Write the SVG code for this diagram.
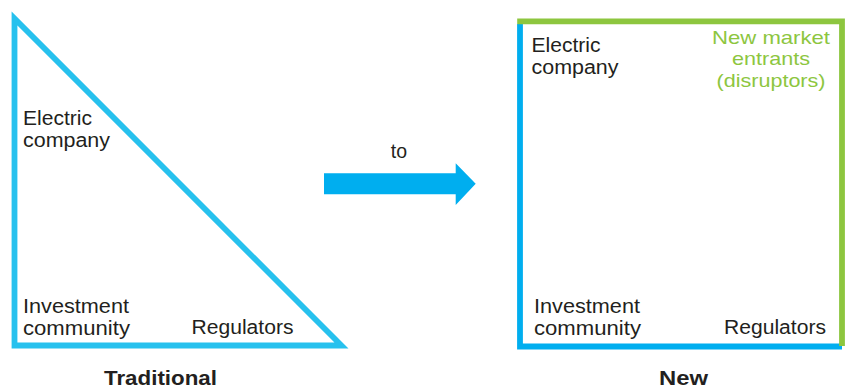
<svg xmlns="http://www.w3.org/2000/svg" width="852" height="392" viewBox="0 0 852 392">
  <style>
    .lbl { font-family: "Liberation Sans", Arial, sans-serif; font-size: 19.5px; fill: #231F20; }
    .title { font-family: "Liberation Sans", Arial, sans-serif; font-size: 20px; font-weight: bold; fill: #231F20; text-anchor: middle; }
    .green { fill: #8DC63F; text-anchor: middle; font-size: 19px; }
    .frame { fill: none; stroke-width: 5.8; stroke-linejoin: miter; }
  </style>
  <rect width="852" height="392" fill="#FFFFFF"/>

  <!-- Traditional model: triangle -->
  <g id="traditional">
    <polygon class="frame" points="14.5,18.5 14.5,345.5 341.5,345.5" stroke="#27C1EE"/>
    <text class="lbl" x="23" y="125" textLength="69" lengthAdjust="spacingAndGlyphs">Electric</text>
    <text class="lbl" x="23" y="147" textLength="87" lengthAdjust="spacingAndGlyphs">company</text>
    <text class="lbl" x="23" y="313" textLength="106" lengthAdjust="spacingAndGlyphs">Investment</text>
    <text class="lbl" x="23" y="335" textLength="107" lengthAdjust="spacingAndGlyphs">community</text>
    <text class="lbl" x="191.5" y="334" textLength="102" lengthAdjust="spacingAndGlyphs">Regulators</text>
    <text class="title" x="160.5" y="385" textLength="113" lengthAdjust="spacingAndGlyphs">Traditional</text>
  </g>

  <!-- New model: square with disruptor edges -->
  <g id="new">
    <path class="frame" d="M520,24 V346.5 H842" stroke="#00AEEF"/>
    <path class="frame" d="M517.2,21.3 H842 V346" stroke="#8DC63F"/>
    <text class="lbl" x="531.5" y="51.7" textLength="69" lengthAdjust="spacingAndGlyphs">Electric</text>
    <text class="lbl" x="531.5" y="73.7" textLength="87" lengthAdjust="spacingAndGlyphs">company</text>
    <text class="lbl green" x="771" y="43.5" textLength="118" lengthAdjust="spacingAndGlyphs">New market</text>
    <text class="lbl green" x="771" y="65" textLength="78" lengthAdjust="spacingAndGlyphs">entrants</text>
    <text class="lbl green" x="771" y="86.5" textLength="109" lengthAdjust="spacingAndGlyphs">(disruptors)</text>
    <text class="lbl" x="534" y="313" textLength="106" lengthAdjust="spacingAndGlyphs">Investment</text>
    <text class="lbl" x="534" y="335" textLength="107" lengthAdjust="spacingAndGlyphs">community</text>
    <text class="lbl" x="724" y="334" textLength="102" lengthAdjust="spacingAndGlyphs">Regulators</text>
    <text class="title" x="683.5" y="385" textLength="49" lengthAdjust="spacingAndGlyphs">New</text>
  </g>

  <!-- Transition arrow -->
  <g id="connectors">
    <polygon points="324,173.3 455.7,173.3 455.7,163.3 475.7,183.8 455.7,205 455.7,194.3 324,194.3" fill="#00AEEF"/>
    <text class="lbl" x="399" y="158" text-anchor="middle">to</text>
  </g>
</svg>
